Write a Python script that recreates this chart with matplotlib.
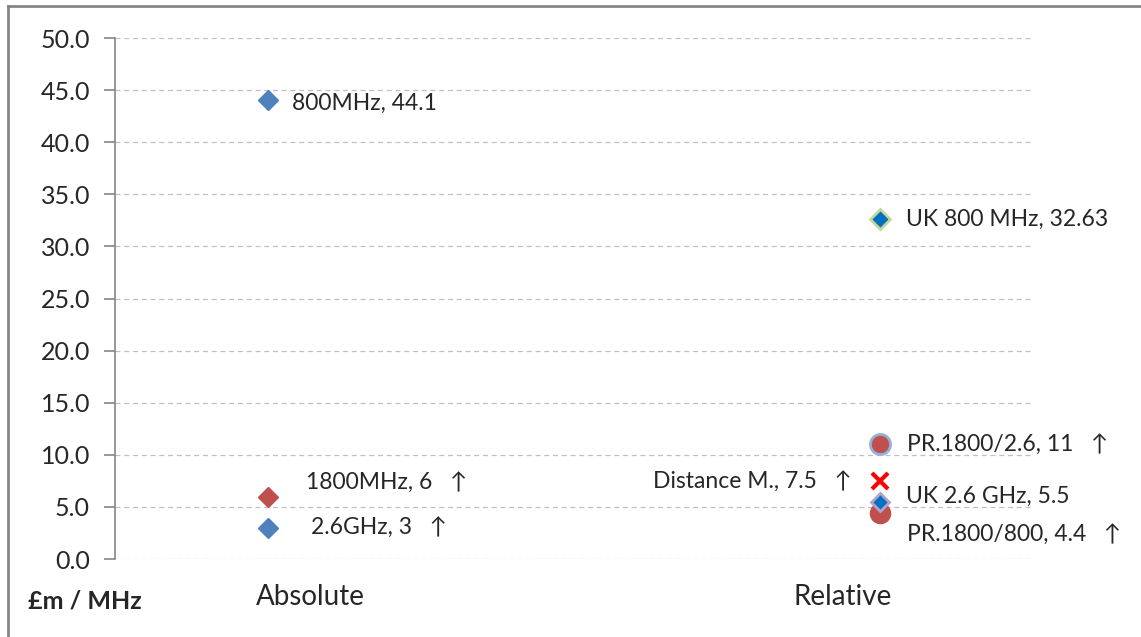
import matplotlib
matplotlib.use("Agg")
import matplotlib.pyplot as plt
from matplotlib.lines import Line2D

plt.rcParams["font.family"] = ["Lato", "DejaVu Sans"]

## Data
groups = ["Absolute", "Relative"]

absNames = ["800MHz", "1800MHz", "2.6GHz"]
absValues = [44.1, 6, 3]
absRising = [False, True, True]

relNames = ["UK 800 MHz", "PR.1800/2.6", "Distance M.", "UK 2.6 GHz", "PR.1800/800"]
relValues = [32.63, 11, 7.5, 5.5, 4.4]
relRising = [False, True, True, False, True]

yTicks = [0, 5, 10, 15, 20, 25, 30, 35, 40, 45, 50]

## Styles
blue = "#4f81bd"
red = "#c0504d"
darkBlue = "#0070c0"
gray = "#868686"
textColor = "#262626"

absStyles = [
    dict(marker="D", color=blue, mec=blue, ms=10.5),
    dict(marker="D", color=red, mec=red, ms=10.5),
    dict(marker="D", color=blue, mec=blue, ms=10.5),
]
relStyles = [
    dict(marker="D", color=darkBlue, mec="#c3d69b", ms=10, mew=2),
    dict(marker="o", color=red, mec="#95b3d7", ms=14.5, mew=2),
    dict(marker="x", color="#ff0000", mec="#ff0000", ms=11, mew=3),
    dict(marker="D", color=darkBlue, mec="#b3a2c7", ms=9.5, mew=2),
    dict(marker="o", color=red, mec=red, ms=14.5, mew=1),
]
zOrders = [4, 3, 6, 5, 3]

# label offsets in pixels (dx, dy), alignment
absOffsets = [(24, -4, "left"), (38, 14, "left"), (43, 0, "left")]
relOffsets = [(26, 0, "left"), (27, 0, "left"), (-28, 0, "right"),
              (26, 5, "left"), (27, -21, "left")]

fig = plt.figure(figsize=(11.41, 6.37), dpi=100)
ax = fig.add_axes([0.1008, 0.1224, 0.8045, 0.8179])

groupX = [1, 5]


def drawGroup(x, names, values, rising, styles, offsets, zs=None):
    for i, (name, val) in enumerate(zip(names, values)):
        z = zs[i] if zs else 3
        ax.plot([x], [val], linestyle="none", zorder=z, clip_on=False, **styles[i])
        label = f"{name}, {val:g}"
        if rising[i]:
            label += "   \u2191"
        dx, dy, ha = offsets[i]
        ax.annotate(
            label,
            xy=(x, val),
            xytext=(dx, dy),
            textcoords="offset pixels",
            ha=ha,
            va="center",
            fontsize=16.5,
            color=textColor,
            annotation_clip=False,
        )


drawGroup(groupX[0], absNames, absValues, absRising, absStyles, absOffsets)
drawGroup(groupX[1], relNames, relValues, relRising, relStyles, relOffsets, zOrders)

ax.set_xlim(0, 6)
ax.set_ylim(0, 50)
ax.set_yticks(yTicks)
ax.set_yticklabels([f"{t:.1f}" for t in yTicks], fontsize=18, color=textColor)
ax.set_xticks([])
ax.yaxis.grid(True, linestyle=(0, (4, 3)), color="#c0c0c0", linewidth=0.9)
ax.set_axisbelow(True)
for side in ["top", "right", "bottom"]:
    ax.spines[side].set_visible(False)
ax.spines["left"].set_color(gray)
ax.spines["left"].set_linewidth(1.2)
ax.tick_params(axis="y", length=8, color=gray, width=1.2, pad=10)

# group captions under the axis
fig.text(310 / 1141, 1 - 597 / 637, groups[0], ha="center", va="center",
         fontsize=20, color=textColor)
fig.text(843 / 1141, 1 - 597 / 637, groups[1], ha="center", va="center",
         fontsize=20, color=textColor)
fig.text(28 / 1141, 1 - 601 / 637, "£m / MHz", ha="left", va="center",
         fontsize=18, fontweight="bold", color=textColor)

# outer frame (top and left edges only visible)
fig.add_artist(Line2D([8 / 1141, 1], [1 - 6 / 637, 1 - 6 / 637],
                      transform=fig.transFigure, color=gray, linewidth=2))
fig.add_artist(Line2D([8 / 1141, 8 / 1141], [0, 1 - 6 / 637],
                      transform=fig.transFigure, color=gray, linewidth=2))

fig.savefig("out.png", dpi=100)
